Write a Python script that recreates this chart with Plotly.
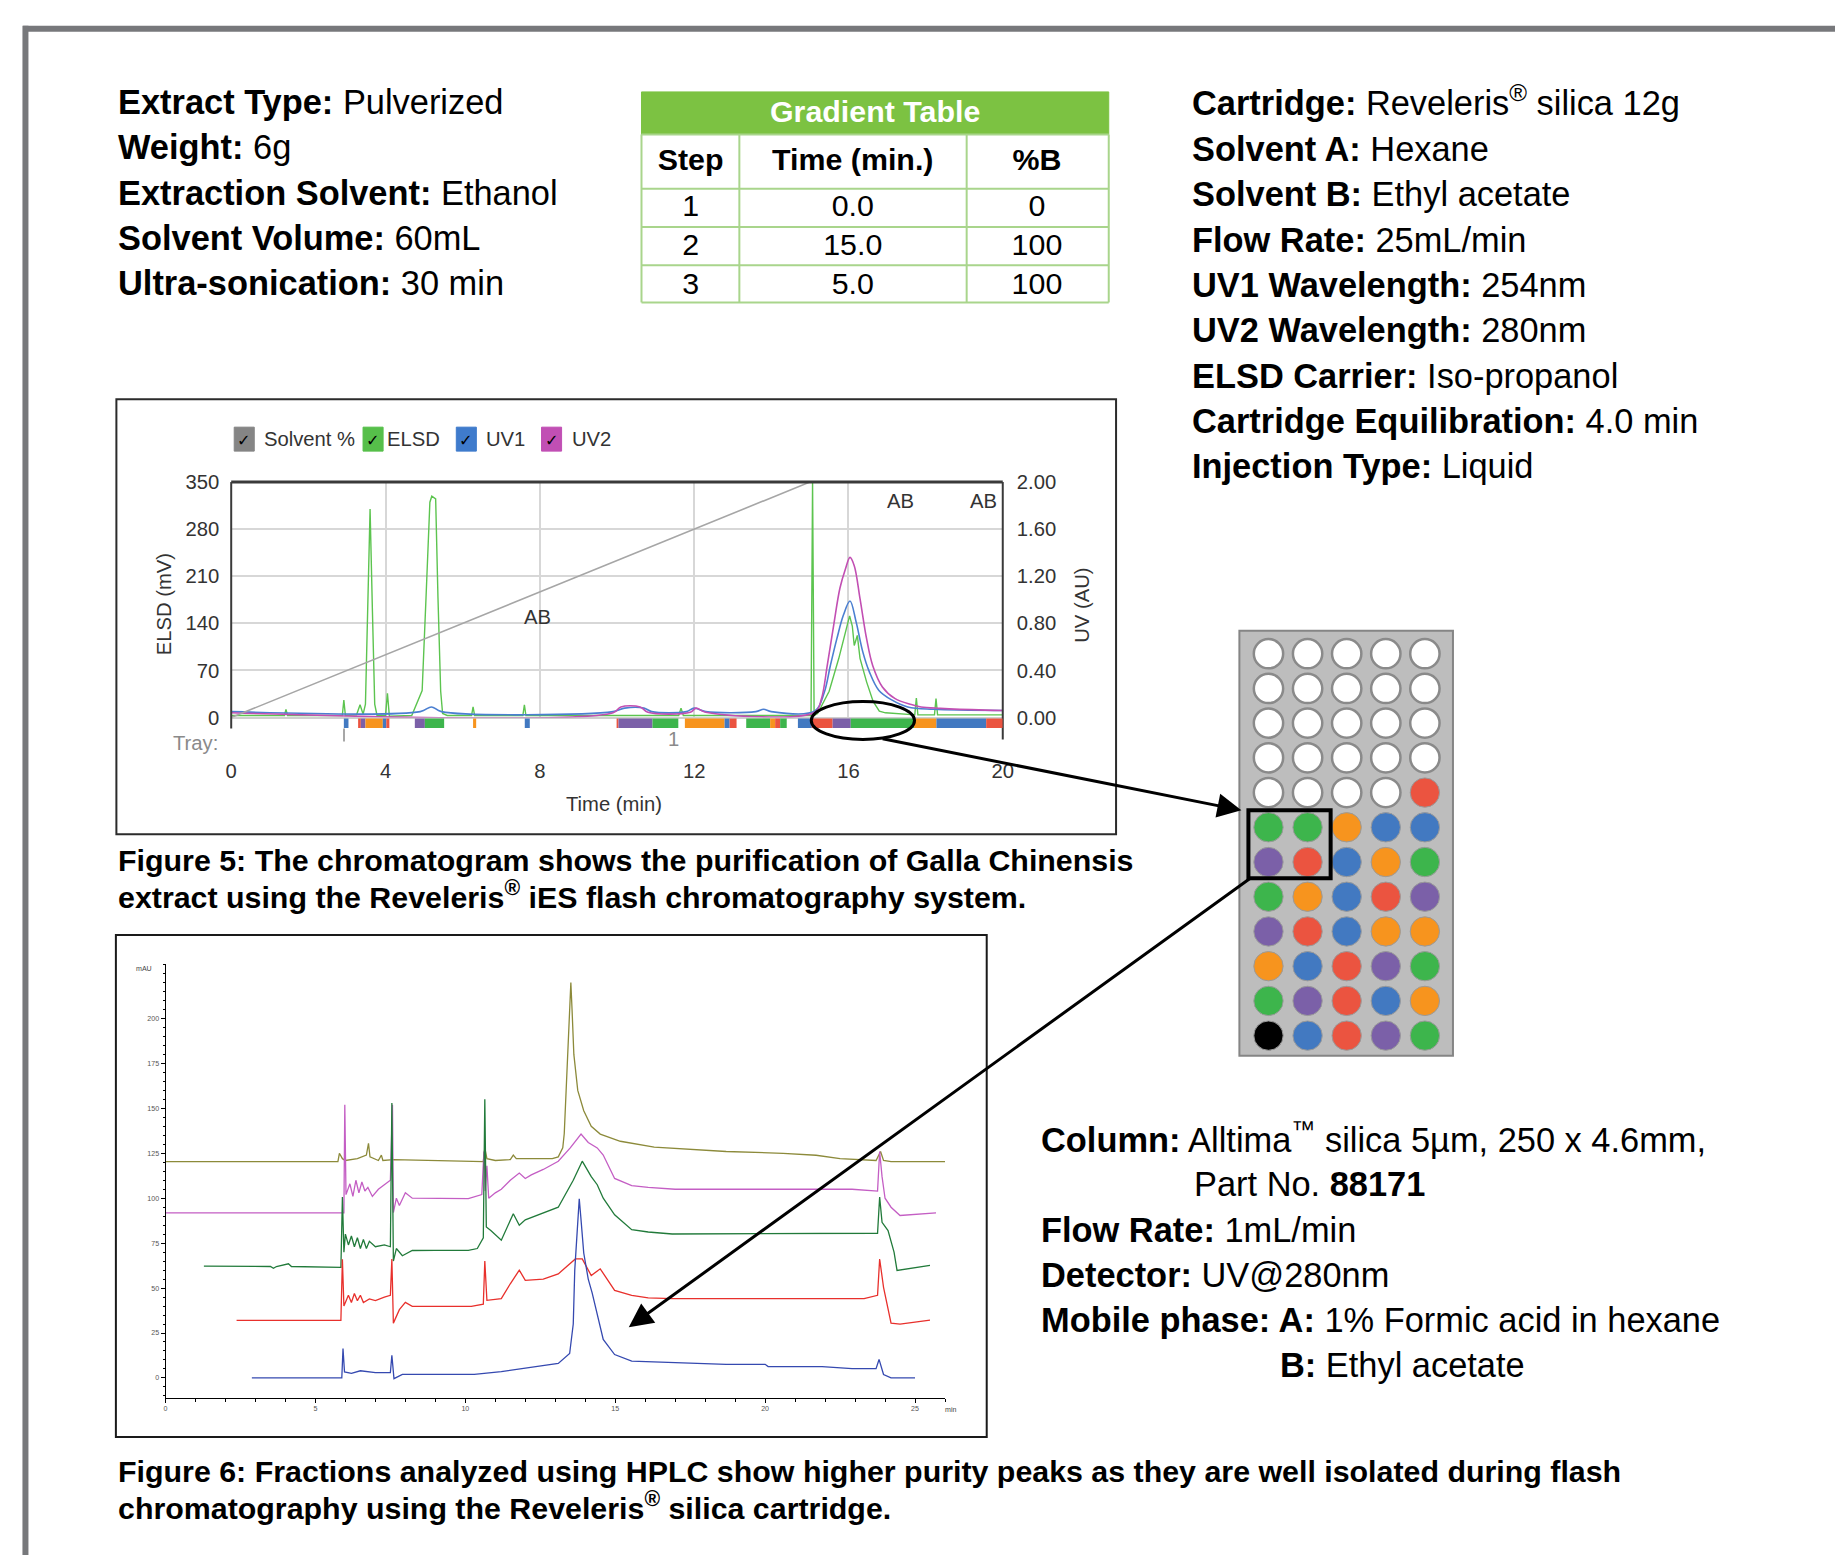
import plotly.graph_objects as go

# Page geometry: the page keeps the browser's 8px body margin, and the captured area is
# slightly larger than 1843x1566 (about 1.2%), so target pixel positions are scaled by K.
K = 1.012
M = 8
W, H = 1846, 1566
def clamp(v): return max(0.0, min(1.0, v))
def fx(x): return clamp((x * K - M) / W)
def fy(y): return clamp(1 - (y * K - M) / H)
def S(v): return v * K
def SI(v): return int(round(v * K))

BODY = "Liberation Sans, Arial, sans-serif"
CH = "Liberation Sans, Arial, sans-serif"
DY = -3  # text box centre vs cap-height centre

# ---------------- data ----------------
info_left_keys = ["Extract Type:", "Weight:", "Extraction Solvent:", "Solvent Volume:", "Ultra-sonication:"]
info_left_vals = ["Pulverized", "6g", "Ethanol", "60mL", "30 min"]

info_right_keys = ["Cartridge:", "Solvent A:", "Solvent B:", "Flow Rate:", "UV1 Wavelength:",
                   "UV2 Wavelength:", "ELSD Carrier:", "Cartridge Equilibration:", "Injection Type:"]
info_right_vals = ["Reveleris<sup>®</sup> silica 12g", "Hexane", "Ethyl acetate", "25mL/min", "254nm",
                   "280nm", "Iso-propanol", "4.0 min", "Liquid"]

grad_headers = ["Step", "Time (min.)", "%B"]
grad_step = ["1", "2", "3"]
grad_time = ["0.0", "15.0", "5.0"]
grad_b = ["0", "100", "100"]

# Flash chromatogram (Figure 5)
solvent_t = [0, 15, 20]
solvent_pct = [0, 100, 100]

elsd_t = [0, 1.38, 1.42, 1.46, 2.88, 2.92, 2.96, 3.25, 3.34, 3.42, 3.48, 3.54, 3.6, 3.66, 3.72, 3.78,
          4.0, 4.05, 4.1, 4.68, 4.95, 5.05, 5.15, 5.2, 5.3, 5.36, 5.43, 5.48, 5.6, 6.23, 6.27, 6.31,
          7.56, 7.6, 7.64, 11.6, 11.66, 11.72, 15.03, 15.07, 15.11, 15.2, 15.5, 15.75, 15.91, 16.03,
          16.1, 16.15, 16.23, 16.3, 16.47, 16.64, 16.8, 16.96, 17.72, 17.76, 17.8, 18.23, 18.27, 18.31, 20.0]
elsd_v = [3, 3, 12, 3, 3, 26, 3, 4, 19, 5, 20, 150, 310, 160, 20, 3,
          3, 36, 2, 3, 40, 178, 320, 329, 325, 178, 39, 6, 3, 3, 16, 3,
          3, 19, 3, 3, 14, 3, 3, 350, 3, 6, 39, 88, 122, 151,
          136, 107, 122, 88, 53, 24, 9.5, 7, 4, 29, 4, 4, 28, 4, 4]

uv1_t = [0, 4.9, 5.19, 5.45, 9.9, 10.2, 10.7, 10.9, 11.8, 12.0, 12.3, 13.6, 13.8, 14.0, 15.13, 15.37,
         15.53, 15.7, 15.87, 16.04, 16.2, 16.37, 16.54, 16.79, 17.12, 17.54, 18.2, 20.0]
uv1_v = [0.05, 0.05, 0.09, 0.05, 0.05, 0.08, 0.08, 0.05, 0.05, 0.08, 0.05, 0.05, 0.07, 0.05, 0.055, 0.21,
         0.44, 0.67, 0.87, 0.99, 0.81, 0.56, 0.39, 0.23, 0.15, 0.09, 0.07, 0.06]

uv2_t = [0, 9.9, 10.1, 10.6, 10.8, 11.9, 12.05, 12.3, 15.13, 15.3, 15.45, 15.62, 15.78, 15.92, 16.04,
         16.15, 16.3, 16.47, 16.63, 16.88, 17.21, 17.63, 17.88, 18.38, 19.55, 20.0]
uv2_v = [0.04, 0.04, 0.09, 0.09, 0.045, 0.045, 0.08, 0.045, 0.045, 0.16, 0.44, 0.79, 1.1, 1.26, 1.36,
         1.29, 1.01, 0.67, 0.44, 0.26, 0.16, 0.11, 0.09, 0.078, 0.063, 0.06]

# Collection tray fractions (start, end in min) and colours
tray_start = [2.92, 3.29, 3.36, 3.48, 3.93, 4.02, 4.76, 5.02, 6.27, 7.61, 9.99, 10.04, 10.92, 11.76, 12.79,
              12.92, 13.35, 13.97, 14.10, 14.23, 14.69, 15.05, 15.59, 16.06, 17.70, 18.28, 19.57]
tray_end = [3.04, 3.36, 3.48, 3.93, 4.02, 4.10, 5.02, 5.52, 6.35, 7.74, 10.04, 10.92, 11.59, 12.79, 12.92,
            13.10, 13.97, 14.10, 14.23, 14.40, 15.05, 15.59, 16.06, 17.70, 18.28, 19.57, 20.0]
tray_code = ["B", "R", "P", "O", "B", "R", "P", "G", "O", "B", "R", "P", "G", "O", "B",
             "R", "G", "O", "R", "G", "B", "R", "P", "G", "O", "B", "R"]

ab_t = [7.94, 17.36, 19.5]
ab_v = [150, 322, 322]

# HPLC fractions (Figure 6)
olive_t = [0, 5.75, 5.8, 5.9, 6.0, 6.4, 6.7, 6.77, 6.82, 7.1, 7.2, 7.25, 7.6, 10.6, 10.65, 10.72, 11.0, 11.5,
           11.6, 11.7, 12.2, 12.9, 13.1, 13.25, 13.3, 13.4, 13.48, 13.52, 13.56, 13.62, 13.75, 13.95, 14.2,
           14.5, 15.17, 16.3, 18.7, 20.6, 21.7, 22.5, 23.7, 23.85, 23.95, 24.2, 26.0]
olive_v = [120.4, 120.4, 125, 122, 121, 122, 124, 130.5, 123, 121, 124, 121, 121.5, 120.4, 128, 122, 121, 121.5,
           124, 122, 122, 122, 123, 128, 136, 175, 205, 220, 205, 180, 160, 148.7, 140,
           135.7, 131.7, 128.4, 126, 125, 123.9, 122, 121, 126, 121, 120.4, 120.4]

magenta_t = [0, 5.95, 5.98, 6.02, 6.15, 6.25, 6.35, 6.45, 6.55, 6.65, 6.75, 6.9, 7.1, 7.5, 7.57, 7.6, 7.7,
             7.8, 8.0, 8.23, 10.1, 10.55, 10.62, 10.66, 10.72, 10.78, 11.0, 11.2, 11.5, 11.8, 12.0, 12.2,
             12.6, 13.1, 13.5, 13.86, 14.1, 14.4, 14.6, 14.98, 15.55, 16.1, 17.0, 22.9, 23.75, 23.82,
             23.9, 24.0, 24.2, 24.5, 25.7]
magenta_v = [91.9, 91.9, 152, 102, 108, 101, 110, 103, 109, 104, 106, 101, 105, 110, 152, 92, 100,
             96, 103, 100, 99.8, 102, 126, 104, 118, 100, 103, 105, 110, 114, 111, 113,
             116, 120.6, 128, 135.7, 131, 128, 124, 111, 107, 106, 105, 105, 104, 126,
             112, 100, 95, 90.4, 91.9]

green_t = [1.28, 3.5, 3.6, 3.7, 4.1, 4.2, 5.85, 5.9, 5.95, 6.0, 6.1, 6.2, 6.3, 6.4, 6.5, 6.6, 6.7, 6.8,
           7.0, 7.3, 7.5, 7.55, 7.6, 7.7, 7.9, 8.23, 9.0, 10.1, 10.4, 10.6, 10.65, 10.7, 10.85, 11.2,
           11.6, 11.8, 12.0, 13.1, 13.6, 13.9, 14.2, 14.4, 14.6, 14.98, 15.55, 16.1, 16.9, 23.3, 23.75,
           23.82, 23.9, 24.1, 24.3, 24.4, 25.5]
green_v = [62.2, 62, 61, 62, 63.5, 62, 61.5, 100.6, 70, 80, 74, 79, 73, 78, 72, 77, 72, 76,
           73, 74, 73, 153, 65, 72, 68, 70.9, 71, 71, 72, 78, 155, 84, 82, 76.6,
           91.4, 85, 88, 95, 110, 120.6, 112, 107.5, 100, 90.8, 82.5, 81.2, 80.1, 80.1, 80.5,
           100.6, 86.6, 82, 70, 59.8, 62.6]

red_t = [2.37, 5.85, 5.9, 5.95, 6.1, 6.2, 6.3, 6.4, 6.5, 6.6, 6.8, 7.0, 7.3, 7.5, 7.55, 7.6, 7.8, 8.0,
         8.23, 10.2, 10.6, 10.65, 10.72, 11.2, 11.5, 11.8, 12.0, 12.6, 13.1, 13.67, 13.9, 14.2, 14.5,
         14.98, 15.55, 16.1, 16.9, 23.3, 23.75, 23.82, 23.95, 24.2, 24.5, 25.5]
red_v = [32, 32, 66, 40, 46, 42, 47, 43, 46, 42, 44, 43, 45, 46, 66.2, 30.5, 38, 42,
         39.8, 39.8, 41, 65, 43.2, 44.1, 52.4, 60, 54.3, 55, 57.9, 66.2, 66.2, 57, 60.7,
         48.7, 46, 44.5, 44.1, 44.1, 46, 66.2, 50.4, 30.5, 29.9, 32.2]

blue_t = [2.88, 5.88, 5.92, 5.97, 6.2, 6.5, 7.0, 7.5, 7.55, 7.62, 7.9, 10.3, 11.2, 12.2, 13.1, 13.48,
          13.6, 13.65, 13.72, 13.8, 13.85, 13.95, 14.1, 14.23, 14.6, 14.98, 15.55, 16.86, 18.7, 20.0,
          20.1, 21.9, 22.9, 23.7, 23.8, 23.95, 24.2, 25.0]
blue_v = [0, 0, 16.3, 3.3, 2.5, 4, 3, 3, 12.6, -0.4, 2.0, 2.0, 3.5, 5.8, 8.1, 13.6,
          30, 60, 80, 99.7, 90, 69.5, 55, 47.3, 21.4, 13, 9.4, 8.5, 7.6, 7.6,
          6.3, 6.3, 5.2, 5.2, 10.3, 1.9, 0, 0]

# Fraction plate (rows top to bottom, 5 wells each)
plate_rows = ["WWWWW", "WWWWW", "WWWWW", "WWWWW", "WWWWR", "GGOBB",
              "PRBOG", "GOBRP", "PRBOO", "OBRPG", "GPRBO", "KBRPG"]

COL = {"W": "#ffffff", "R": "#eb5440", "G": "#3db54c", "O": "#f7941e",
       "B": "#4279c1", "P": "#7b60a8", "K": "#000000"}

fig = go.Figure()

# ---------------- Figure 5 traces ----------------
fig.add_trace(go.Scatter(x=solvent_t, y=solvent_pct, mode="lines", yaxis="y3", xaxis="x",
                         line=dict(color="#a6a6a6", width=1.6), showlegend=False, hoverinfo="skip"))
fig.add_trace(go.Scatter(x=elsd_t, y=elsd_v, mode="lines", xaxis="x", yaxis="y",
                         line=dict(color="#5cc44f", width=1.4), showlegend=False))
fig.add_trace(go.Scatter(x=uv1_t, y=uv1_v, mode="lines", xaxis="x", yaxis="y2", line_shape="spline",
                         line=dict(color="#4b7fd1", width=1.6), showlegend=False))
fig.add_trace(go.Scatter(x=uv2_t, y=uv2_v, mode="lines", xaxis="x", yaxis="y2", line_shape="spline",
                         line=dict(color="#c24fb3", width=1.6), showlegend=False))

# ---------------- Figure 6 traces ----------------
for tt, vv, cc in [(olive_t, olive_v, "#8c8a3a"), (magenta_t, magenta_v, "#c45ec4"),
                   (green_t, green_v, "#217a3a"), (red_t, red_v, "#e8302c"), (blue_t, blue_v, "#3549b0")]:
    fig.add_trace(go.Scatter(x=tt, y=vv, mode="lines", xaxis="x4", yaxis="y4",
                             line=dict(color=cc, width=1.3), showlegend=False))

# ---------------- Plate ----------------
px_, py_, pc_, plc_, plw_ = [], [], [], [], []
for r, row in enumerate(plate_rows):
    for c, code in enumerate(row):
        px_.append(c + 1)
        py_.append(r + 1)
        pc_.append(COL[code])
        plc_.append("#8a8a8a" if code == "W" else "#9a9a9a")
        plw_.append(2.5 if code == "W" else 1)
fig.add_trace(go.Scatter(x=px_, y=py_, mode="markers", xaxis="x5", yaxis="y5", showlegend=False,
                         marker=dict(size=S(29), color=pc_, line=dict(color=plc_, width=plw_))))

# ---------------- Gradient table ----------------
# Cell text in plotly tables sits near the top of each cell, so the table body is drawn
# slightly higher and the grid lines are drawn separately at the reference positions.
tbl_line = "#a9d58c"
CLEAR = "rgba(0,0,0,0)"
fig.add_trace(go.Table(
    domain=dict(x=[fx(642), fx(1107.7)], y=[fy(297), fy(131.7)]),
    columnwidth=[97.6, 226.7, 141.7],
    header=dict(values=["<b>%s</b>" % h for h in grad_headers], height=S(50.3), align="center",
                line=dict(color=CLEAR, width=0), fill=dict(color=CLEAR),
                font=dict(size=S(30), color="black", family=BODY)),
    cells=dict(values=[grad_step, grad_time, grad_b], height=S(38.3), align="center",
               line=dict(color=CLEAR, width=0), fill=dict(color=CLEAR),
               font=dict(size=S(30), color="black", family=BODY)),
))

shapes = []
ann = []

def txt(text, x, y, size, color="black", family=BODY, xa="left", ya="middle", **kw):
    d = dict(text=text, x=fx(x), y=fy(y), xref="paper", yref="paper", xanchor=xa, yanchor=ya,
             showarrow=False, font=dict(size=S(size), color=color, family=family))
    d.update(kw)
    ann.append(d)

def pline(x0, y0, x1, y1, color, width):
    shapes.append(dict(type="line", xref="paper", yref="paper", x0=fx(x0), x1=fx(x1), y0=fy(y0), y1=fy(y1),
                       line=dict(color=color, width=width)))

def prect(x0, y0, x1, y1, line_color, width, fill=None, layer="above"):
    d = dict(type="rect", xref="paper", yref="paper", x0=fx(x0), x1=fx(x1), y0=fy(y1), y1=fy(y0),
             line=dict(color=line_color, width=width), layer=layer)
    if fill:
        d["fillcolor"] = fill
    shapes.append(d)

# outer page frame
pline(25, 25.7, 1843, 25.7, "#77787b", 6)
pline(27.3, 22.7, 27.3, 1566, "#77787b", 6)

# gradient table title bar and grid
prect(641.7, 89, 1107.7, 131.7, "#7cc242", 1, fill="#7cc242")
txt("<b>Gradient Table</b>", 874.7, 108.5, 30, color="white", xa="center")
for gy in [131.7, 186, 224.3, 262.7, 300]:
    pline(641.7, gy, 1107.7, gy, tbl_line, 2)
for gx in [641.7, 739.3, 966, 1107.7]:
    pline(gx, 131.7, gx, 300, tbl_line, 2)

# info text blocks
left_y = [102.5, 147.7, 192.9, 238.1, 283.3]
for k, v, yy in zip(info_left_keys, info_left_vals, left_y):
    txt("<b>%s</b> %s" % (k, v), 117.5, yy + DY, 34)
right_y = [104 + i * 45.4 for i in range(len(info_right_keys))]
right_y[0] -= 3.5  # superscript makes the first line's box taller
for k, v, yy in zip(info_right_keys, info_right_vals, right_y):
    txt("<b>%s</b> %s" % (k, v), 1189, yy + DY, 34)

hplc_lines = [("<b>Column:</b> Alltima<sup>™</sup> silica 5µm, 250 x 4.6mm,", 1038, 1139.7),
              ("Part No. <b>88171</b>", 1191, 1186.7),
              ("<b>Flow Rate:</b> 1mL/min", 1038, 1232.5),
              ("<b>Detector:</b> UV@280nm", 1038, 1278),
              ("<b>Mobile phase: A:</b> 1% Formic acid in hexane", 1038, 1323.3),
              ("<b>B:</b> Ethyl acetate", 1277, 1368.3)]
for t, xx, yy in hplc_lines:
    txt(t, xx, yy + DY, 34)

# captions
caps = [("<b>Figure 5: The chromatogram shows the purification of Galla Chinensis</b>", 862),
        ("<b>extract using the Reveleris<sup>®</sup> iES flash chromatography system.</b>", 896.5),
        ("<b>Figure 6: Fractions analyzed using HPLC show higher purity peaks as they are well isolated during flash</b>", 1474.5),
        ("<b>chromatography using the Reveleris<sup>®</sup> silica cartridge.</b>", 1509.5)]
for t, yy in caps:
    txt(t, 117.5, yy + DY, 30)

# ---------- Figure 5 decorations ----------
prect(118, 397, 1115, 833, "#2b2b2b", 2)
pline(232.5, 480, 1002, 480, "#3a3a3a", 3)
pline(232.5, 480, 232.5, 727, "#3a3a3a", 2)
pline(1002, 480, 1002, 738, "#3a3a3a", 2)
pline(345, 727, 345, 740, "#8a8a8a", 1.5)
for s, e, c in zip(tray_start, tray_end, tray_code):
    shapes.append(dict(type="rect", xref="x", yref="paper", x0=s, x1=e, y0=fy(726.5), y1=fy(717),
                       fillcolor=COL[c], line=dict(width=0), layer="above"))
shapes.append(dict(type="circle", xref="paper", yref="paper", x0=fx(811), x1=fx(914), y0=fy(738), y1=fy(700),
                   line=dict(color="black", width=3)))

# legend (checkbox style)
leg_names = ["Solvent %", "ELSD", "UV1", "UV2"]
leg_cols = ["#858585", "#56bf4a", "#3f7bcc", "#c14fb4"]
leg_box_x = [235.5, 364, 457, 542]
leg_txt_x = [263, 386, 485, 570]
for nm, cl, bx, tx in zip(leg_names, leg_cols, leg_box_x, leg_txt_x):
    prect(bx, 425, bx + 20, 449, cl, 1, fill=cl)
    txt("<b>✓</b>", bx + 10, 438, 16, family="DejaVu Sans", xa="center")
    txt(nm, tx, 437, 20, color="#333333", family=CH)

for t, v in zip(ab_t, ab_v):
    ann.append(dict(text="AB", x=t, y=v, xref="x", yref="y", xanchor="center", yanchor="middle",
                    showarrow=False, font=dict(size=S(20), color="#333333", family=CH)))

txt("ELSD (mV)", 165, 603, 20, color="#333333", family=CH, xa="center", textangle=-90)
txt("UV (AU)", 1081, 603, 20, color="#333333", family=CH, xa="center", textangle=-90)
txt("Time (min)", 614, 803, 20, color="#333333", family=CH, xa="center")
txt("Tray:", 221, 742, 20, color="#8a8a8a", family=CH, xa="right")
txt("1", 674, 738, 20, color="#8a8a8a", family=CH, xa="center")

# ---------- Figure 6 decorations ----------
prect(117.5, 934, 986, 1437, "#1a1a1a", 2)
txt("mAU", 146, 968, 7, color="#444444", xa="center")
txt("min", 950, 1410, 7, color="#444444", xa="center")

# ---------- Plate ----------
prect(1238, 629, 1451, 1055, "#858585", 2, fill="#bdbdbd", layer="below")
prect(1247, 809, 1329, 877, "black", 4)

# ---------- arrows ----------
ann.append(dict(text="", x=fx(1240), y=fy(809), xref="paper", yref="paper", showarrow=True,
                ax=S(884 - 1240), ay=S(738 - 809), arrowhead=2, arrowsize=1.6, arrowwidth=3,
                arrowcolor="black", standoff=0))
ann.append(dict(text="", x=fx(629), y=fy(1327), xref="paper", yref="paper", showarrow=True,
                ax=S(1245 - 629), ay=S(882 - 1327), arrowhead=2, arrowsize=1.6, arrowwidth=3,
                arrowcolor="black", standoff=0))

tickf = dict(size=S(20), color="#333333", family=CH)
tiny = dict(size=S(7), color="#555555", family=BODY)

fig.update_layout(
    width=W, height=H, margin=dict(l=0, r=0, t=0, b=0, pad=0),
    paper_bgcolor="white", plot_bgcolor="white", showlegend=False,
    shapes=shapes, annotations=ann,
    xaxis=dict(domain=[fx(232.5), fx(1002)], range=[0, 20], anchor="y", tickvals=[0, 4, 8, 12, 16, 20],
               showgrid=True, gridcolor="#d7d7d7", gridwidth=1.5, zeroline=False, showline=False,
               ticks="", ticklabelstandoff=SI(38.5), tickfont=tickf),
    yaxis=dict(domain=[fy(716), fy(480)], range=[0, 350], anchor="x", tickvals=[0, 70, 140, 210, 280, 350],
               showgrid=True, gridcolor="#d7d7d7", gridwidth=1.5, zeroline=True, zerolinecolor="#cfcfcf",
               zerolinewidth=1.5, showline=False, ticks="", ticklabelstandoff=SI(11), tickfont=tickf),
    yaxis2=dict(overlaying="y", side="right", anchor="x", range=[0, 2],
                tickvals=[0, 0.4, 0.8, 1.2, 1.6, 2.0], ticktext=["0.00", "0.40", "0.80", "1.20", "1.60", "2.00"],
                showgrid=False, zeroline=False, showline=False, ticks="", ticklabelstandoff=SI(13), tickfont=tickf),
    yaxis3=dict(overlaying="y", range=[0, 100], visible=False),
    xaxis4=dict(domain=[fx(167), fx(944.4)], range=[0, 26], anchor="y4", tickvals=[0, 5, 10, 15, 20, 25],
                showgrid=False, zeroline=False, showline=True, linecolor="black", linewidth=1,
                ticks="outside", ticklen=4, tickcolor="black", tickfont=tiny,
                minor=dict(dtick=1, ticks="outside", ticklen=3, tickcolor="black")),
    yaxis4=dict(domain=[fy(1397.7), fy(962.7)], range=[-11, 230.5], anchor="x4",
                tickvals=[0, 25, 50, 75, 100, 125, 150, 175, 200],
                showgrid=False, zeroline=False, showline=True, linecolor="black", linewidth=1,
                ticks="outside", ticklen=4, tickcolor="black", tickfont=tiny,
                minor=dict(dtick=5, ticks="outside", ticklen=2, tickcolor="black")),
    xaxis5=dict(domain=[fx(1238), fx(1451)], range=[0.256, 5.718], anchor="y5", visible=False),
    yaxis5=dict(domain=[fy(1055), fy(629)], range=[12.58, 0.339], anchor="x5", visible=False),
)

fig.write_html("out.html")
